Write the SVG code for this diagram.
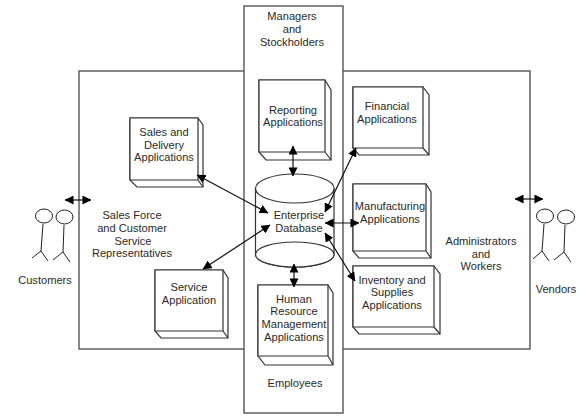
<svg xmlns="http://www.w3.org/2000/svg" width="579" height="418" viewBox="0 0 579 418">
<style>
.f{fill:#fff;stroke:#555;stroke-width:1.4}
.b{fill:#fff;stroke:#333;stroke-width:1.2}
.l{fill:none;stroke:#222;stroke-width:1}
.c{fill:none;stroke:#111;stroke-width:1.2;marker-start:url(#a);marker-end:url(#a)}
text{font-family:"Liberation Sans",Arial,sans-serif;font-size:11.1px;fill:#2a2a2a;text-anchor:middle}
</style>
<defs>
<marker id="a" viewBox="0 0 10 10" refX="9.500" refY="5" markerWidth="9" markerHeight="9" markerUnits="userSpaceOnUse" orient="auto-start-reverse"><path d="M0 0L10 5L0 10Z" fill="#000"/></marker>
</defs>
<rect width="579" height="418" fill="#fff"/>
<g id="enterprise"><rect class="f" x="79" y="71" width="451" height="278"/></g>
<g id="band"><rect class="f" x="244" y="6" width="99" height="407"/>
<text x="292" y="20">Managers</text><text x="292" y="33">and</text><text x="292" y="46">Stockholders</text>
<text x="295" y="387">Employees</text></g>
<g id="sales"><path class="b" d="M130 118H198L203 125V187H137L130 180Z"/><path class="b" d="M130 118H198V180H130ZM198 180L203 187"/>
<text x="164" y="136">Sales and</text><text x="164" y="149">Delivery</text><text x="164" y="161">Applications</text></g>
<g id="reporting"><path class="b" d="M259 80H325L331 90V160H266L259 152Z"/><path class="b" d="M259 80H325V152H259ZM325 152L331 160"/>
<text x="293" y="114">Reporting</text><text x="293" y="126">Applications</text></g>
<g id="financial"><path class="b" d="M353 87H423L429 95V155H359L353 148Z"/><path class="b" d="M353 87H423V148H353ZM423 148L429 155"/>
<text x="387" y="110">Financial</text><text x="387" y="123">Applications</text></g>
<g id="manufacturing"><path class="b" d="M353 184H426L431 192V258H359L353 251Z"/><path class="b" d="M353 184H426V251H353ZM426 251L431 258"/>
<text x="390" y="210">Manufacturing</text><text x="390" y="223">Applications</text></g>
<g id="inventory"><path class="b" d="M353 266H434L440 274V334H359L353 327Z"/><path class="b" d="M353 266H434V327H353ZM434 327L440 334"/>
<text x="392" y="284">Inventory and</text><text x="392" y="296">Supplies</text><text x="392" y="309">Applications</text></g>
<g id="service"><path class="b" d="M155 270H223L228 278V338H161L155 331Z"/><path class="b" d="M155 270H223V331H155ZM223 331L228 338"/>
<text x="189" y="291">Service</text><text x="189" y="304">Application</text></g>
<g id="hr"><path class="b" d="M258 285H328L333 293V365H265L258 356Z"/><path class="b" d="M258 285H328V356H258ZM328 356L333 365"/>
<text x="294" y="303">Human</text><text x="294" y="315">Resource</text><text x="294" y="328">Management</text><text x="294" y="341">Applications</text></g>
<g id="database"><path class="b" d="M255.500 188V254.500A39 12.500 0 0 0 334 254.500V188"/><ellipse class="b" cx="294.800" cy="188.500" rx="39.300" ry="14.500"/><ellipse class="b" cx="294.800" cy="254.500" rx="39.300" ry="12.500"/>
<text x="299" y="219">Enterprise</text><text x="299" y="232">Database</text></g>
<g id="customers"><ellipse class="l" cx="44" cy="216" rx="8.500" ry="7"/><ellipse class="l" cx="64.500" cy="217" rx="8.500" ry="7"/>
<path class="l" d="M43 224L41 251M32 258L41 251L48 261M64 225L63 252M53 260L63 252L70 262"/>
<text x="45" y="284">Customers</text></g>
<g id="vendors"><ellipse class="l" cx="545" cy="216" rx="8.500" ry="7"/><ellipse class="l" cx="566" cy="217" rx="8.500" ry="7"/>
<path class="l" d="M544 224L542 251M533 259L542 251L549 261M565 225L564 252M554 260L564 252L571 262"/>
<text x="556" y="293">Vendors</text></g>
<g id="labels"><text x="132" y="219">Sales Force</text><text x="132" y="232">and Customer</text><text x="133" y="245">Service</text><text x="132" y="257">Representatives</text>
<text x="481" y="245">Administrators</text><text x="481" y="258">and</text><text x="481" y="270">Workers</text></g>
<g id="connectors">
<path class="c" d="M65 200H91"/>
<path class="c" d="M515 199H543"/>
<path class="c" d="M293 146V176"/>
<path class="c" d="M197 175L268 213"/>
<path class="c" d="M203 269L270 225"/>
<path class="c" d="M356 148L325 212"/>
<path class="c" d="M325 223H359"/>
<path class="c" d="M325 233L355 281"/>
<path class="c" d="M294 264V287"/>
</g>
</svg>
